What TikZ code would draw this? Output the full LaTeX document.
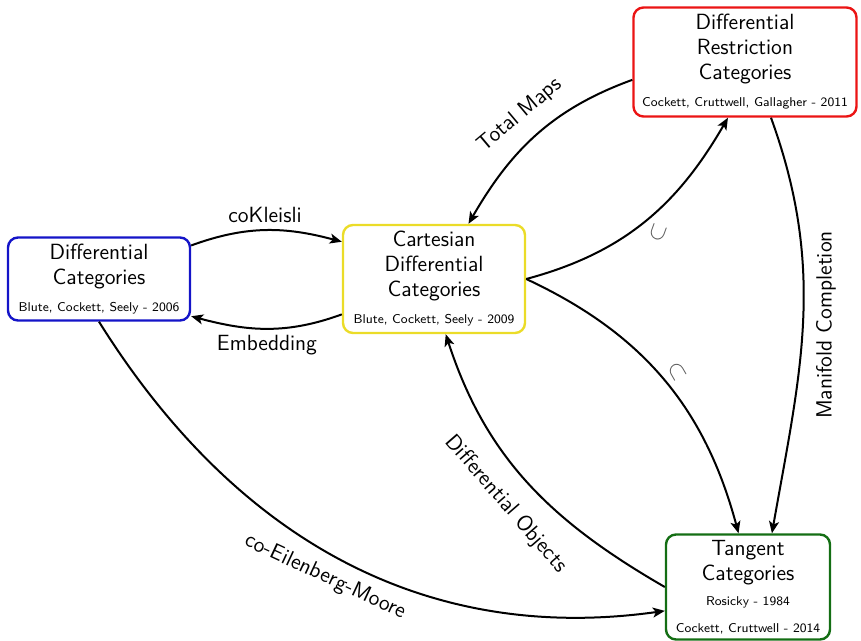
\documentclass[tikz,border=0pt]{standalone}
\usetikzlibrary{arrows.meta}
\definecolor{cblue}{RGB}{20,20,200}
\definecolor{cyellow}{RGB}{235,220,40}
\definecolor{cred}{RGB}{235,20,20}
\definecolor{cgreen}{RGB}{20,110,20}
\begin{document}
\begin{tikzpicture}[x=0.5pt,y=-0.5pt,font=\sffamily\fontsize{11}{12.5}\selectfont,
  box/.style={draw,very thick,rounded corners=5pt,align=center,inner sep=1pt},
  arr/.style={line width=1pt,-{Stealth[length=6pt,width=5pt,inset=1.5pt]}},
  lab/.style={inner sep=0pt}]
\newcommand{\citetxt}[1]{{\fontsize{6.4}{8}\selectfont #1}}
\useasboundingbox (0,0) rectangle (861,641);
\node[box,draw=cblue,minimum width=91pt,minimum height=41.5pt] (d) at (99,279)
  {Differential\\Categories\\[1pt]\citetxt{Blute, Cockett, Seely - 2006}};
\node[box,draw=cyellow,minimum width=91pt,minimum height=54pt] (c) at (434,279)
  {Cartesian\\Differential\\Categories\\[1pt]\citetxt{Blute, Cockett, Seely - 2009}};
\node[box,draw=cred,minimum width=111.5pt,minimum height=54.5pt] (r) at (745,62)
  {Differential\\Restriction\\Categories\\[1pt]\citetxt{Cockett, Cruttwell, Gallagher - 2011}};
\node[box,draw=cgreen,minimum width=82pt,minimum height=52.5pt] (t) at (748,587)
  {Tangent\\Categories\\[0pt]\citetxt{Rosicky - 1984}\\[1pt]\citetxt{Cockett, Cruttwell - 2014}};

\draw[arr] (d.20) to[out=20,in=165] (c.158);
\draw[arr] (c.201) to[out=200,in=-15] (d.-22);
\draw[arr] (r.189) to[out=200,in=60] (c.58);
\draw[arr] (c.0) to[out=15,in=240] (r.253);
\draw[arr] (c.0) to[out=-25,in=105] (t.100);
\draw[arr] (r.-65) to[out=-70,in=80] (t.66);
\draw[arr] (t.180) to[out=150,in=-72] (c.-78);
\draw[arr] (d.-90) to[out=-58,in=188] (t.196);

\node[lab] (l1) at (265,215) {coKleisli};
\node[lab] (l2) at (267,345) {Embedding};
\node[lab,rotate=40] (l3) at (520,115) {Total Maps};
\node[lab,rotate=70,text=black!65] (l4) at (658,233) {\large$\subset$};
\node[lab,rotate=-60,text=black!65] (l5) at (677,372) {\large$\subset$};
\node[lab,rotate=90] (l6) at (826,325) {Manifold Completion};
\node[lab,rotate=-49] (l7) at (506,504) {Differential Objects};
\node[lab,rotate=-25] (l8) at (325,577) {co-Eilenberg-Moore};
\end{tikzpicture}
\end{document}
